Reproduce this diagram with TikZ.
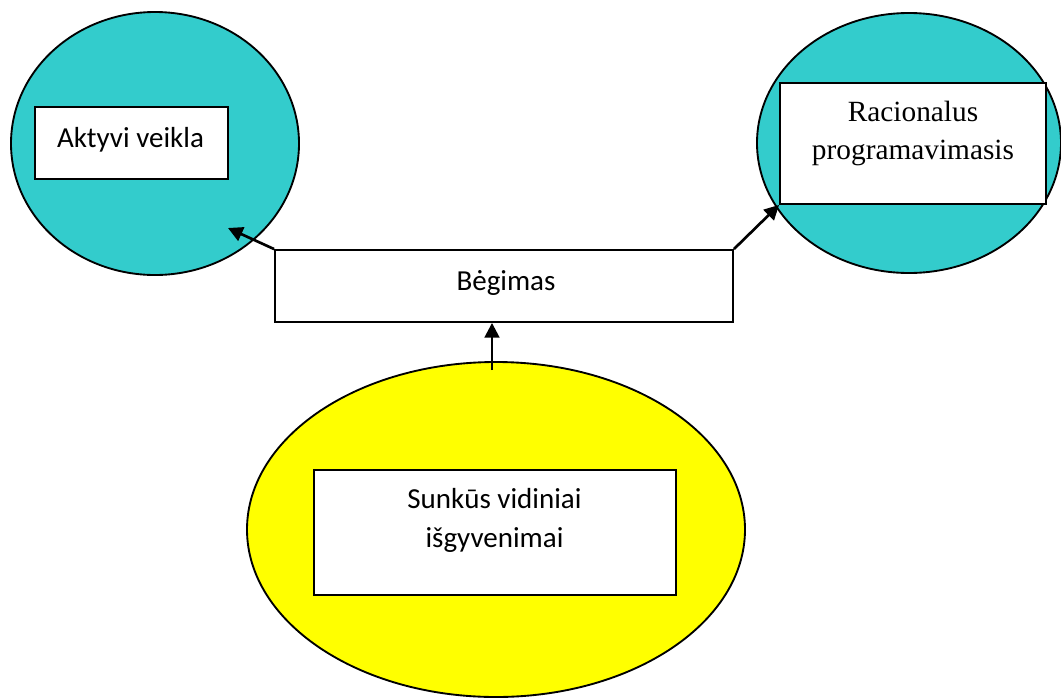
\documentclass[tikz,border=0pt]{standalone}
\usepackage{fontspec}
\setmainfont{Carlito}
\newfontfamily\timesfont{Liberation Serif}
\usetikzlibrary{shapes.geometric,arrows.meta}
\definecolor{tealfill}{RGB}{51,204,204}
\definecolor{yellowfill}{RGB}{255,255,0}
\begin{document}
\begin{tikzpicture}[x=0.75pt,y=-0.75pt,
  blob/.style={ellipse,draw=black,line width=1.4pt,inner sep=0pt},
  tbox/.style={rectangle,draw=black,line width=1.4pt,fill=white,inner sep=0pt},
  label/.style={inner sep=0pt,align=center},
  calibri/.style={font=\fontsize{21.75}{29.25}\selectfont},
  times/.style={font=\timesfont\fontsize{22}{28}\selectfont},
  link/.style={line width=2pt,-{Triangle[length=11pt,width=11pt]}}]
  \useasboundingbox (0,0) rectangle (1061,697);

  % outer ellipses
  \node[blob,fill=tealfill,minimum width=216pt,minimum height=197.25pt] (left) at (155,143.5) {};
  \node[blob,fill=tealfill,minimum width=228pt,minimum height=195pt] (right) at (909,143) {};
  \node[blob,fill=yellowfill,minimum width=373.5pt,minimum height=251.25pt] (cause) at (496,529.5) {};

  % boxes
  \node[tbox,minimum width=144.75pt,minimum height=54pt] (aktyvi) at (131.5,143) {};
  \node[tbox,minimum width=199.5pt,minimum height=90.75pt] (racion) at (913,143.5) {};
  \node[tbox,minimum width=343.5pt,minimum height=54pt] (begimas) at (504,286) {};
  \node[tbox,minimum width=271.5pt,minimum height=93.75pt] (sunkus) at (495,532.5) {};

  % texts (base anchor = baseline of the last line)
  \node[label,calibri,anchor=base] (taktyvi) at (130.5,147) {Aktyvi veikla};
  \node[label,calibri,anchor=base] (tbegimas) at (506,290) {Bėgimas};
  \node[label,times,anchor=base] (tracion) at (913,159) {Racionalus\\programavimasis};
  \node[label,calibri,anchor=base] (tsunkus) at (494.5,547) {Sunkūs vidiniai\\išgyvenimai};

  % connectors
  \coordinate (lefttip) at (228,228);
  \coordinate (upstart) at (492,370);
  \draw[link] (begimas.north west) -- (lefttip);
  \draw[link] (begimas.north east) -- (racion.south west);
  \draw[link] (upstart) -- (begimas.south -| upstart);
\end{tikzpicture}
\end{document}
